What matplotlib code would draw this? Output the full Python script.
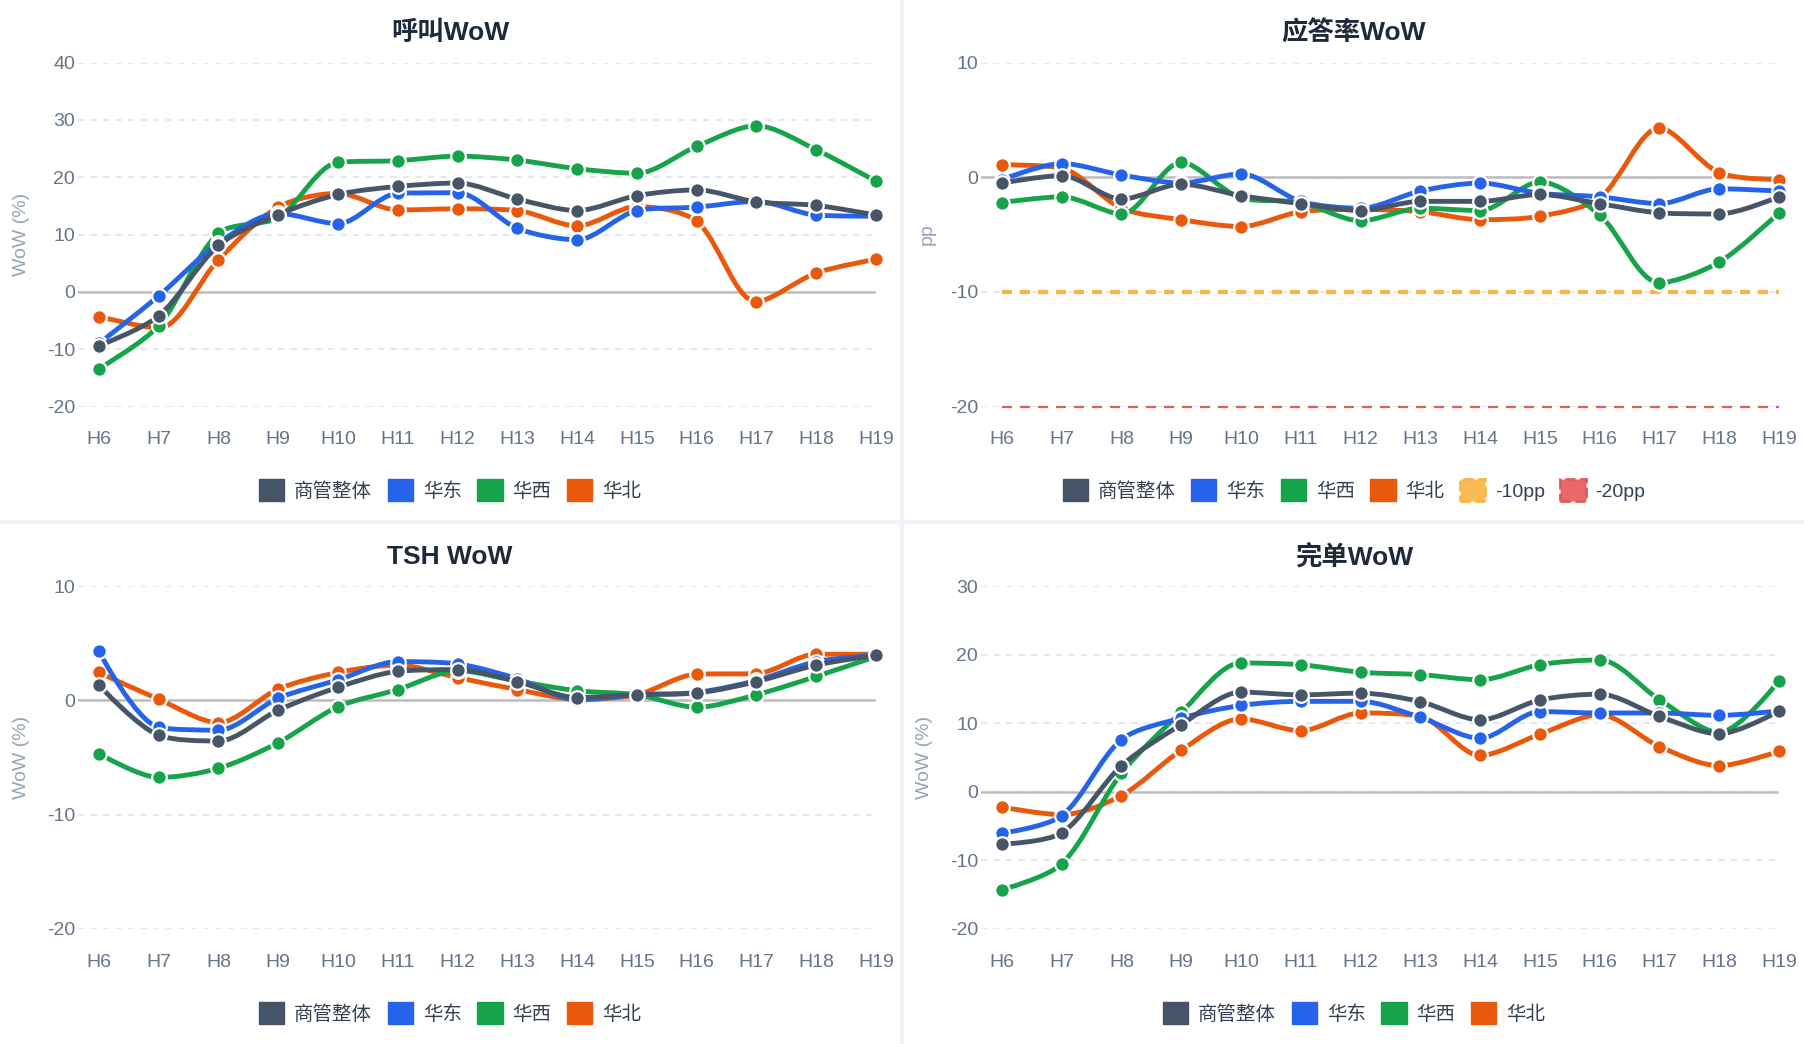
import numpy as np
import matplotlib
matplotlib.use('Agg')
import matplotlib.pyplot as plt
from matplotlib.path import Path
from matplotlib.patches import PathPatch, Patch, Rectangle

plt.rcParams['font.family'] = ['Liberation Sans', 'Noto Sans CJK SC']
plt.rcParams['axes.unicode_minus'] = False

# categories
hours = ['H6', 'H7', 'H8', 'H9', 'H10', 'H11', 'H12', 'H13', 'H14', 'H15', 'H16', 'H17', 'H18', 'H19']
series_names = ['商管整体', '华东', '华西', '华北']
series_colors = ['#475569', '#2563eb', '#16a34a', '#ea580c']

# 呼叫WoW (%)
call_all = [-9.4, -4.2, 8.1, 13.5, 17.0, 18.4, 19.0, 16.2, 14.2, 16.8, 17.8, 15.7, 15.1, 13.4]
call_east = [-9.0, -0.7, 8.5, 13.7, 11.9, 17.2, 17.3, 11.1, 9.1, 14.2, 14.8, 15.8, 13.4, 13.2]
call_west = [-13.4, -5.9, 10.2, 13.0, 22.6, 22.9, 23.7, 23.0, 21.5, 20.7, 25.4, 29.0, 24.8, 19.3]
call_north = [-4.3, -6.3, 5.6, 14.8, 17.2, 14.3, 14.5, 14.2, 11.5, 14.9, 12.3, -1.7, 3.3, 5.7]

# 应答率WoW (pp)
ans_all = [-0.5, 0.15, -1.9, -0.6, -1.6, -2.3, -2.9, -2.1, -2.1, -1.5, -2.3, -3.1, -3.2, -1.7]
ans_east = [-0.2, 1.2, 0.2, -0.5, 0.3, -2.1, -2.7, -1.2, -0.5, -1.4, -1.7, -2.3, -1.0, -1.2]
ans_west = [-2.2, -1.7, -3.2, 1.3, -1.8, -2.2, -3.8, -2.7, -2.9, -0.4, -3.3, -9.2, -7.4, -3.1]
ans_north = [1.1, 0.8, -2.7, -3.7, -4.3, -3.0, -2.8, -3.0, -3.7, -3.4, -1.8, 4.3, 0.4, -0.2]
ans_ref_values = [-10, -20]
ans_ref_names = ['-10pp', '-20pp']

# TSH WoW (%)
tsh_all = [1.35, -3.05, -3.55, -0.85, 1.15, 2.55, 2.7, 1.65, 0.25, 0.5, 0.65, 1.65, 3.1, 3.95]
tsh_east = [4.3, -2.35, -2.6, 0.2, 1.8, 3.4, 3.2, 1.9, 0.05, 0.5, 0.7, 1.75, 3.4, 3.95]
tsh_west = [-4.65, -6.75, -5.95, -3.7, -0.55, 0.95, 2.6, 1.7, 0.85, 0.5, -0.6, 0.5, 2.1, 3.85]
tsh_north = [2.45, 0.1, -1.95, 1.0, 2.45, 3.1, 2.0, 0.95, 0.1, 0.5, 2.3, 2.35, 4.05, 4.05]

# 完单WoW (%)
done_all = [-7.65, -6.0, 3.8, 9.8, 14.55, 14.15, 14.4, 13.15, 10.5, 13.4, 14.25, 11.0, 8.45, 11.8]
done_east = [-6.05, -3.5, 7.6, 10.75, 12.6, 13.2, 13.2, 10.85, 7.8, 11.7, 11.5, 11.5, 11.15, 11.8]
done_west = [-14.3, -10.55, 2.7, 11.6, 18.8, 18.55, 17.45, 17.1, 16.35, 18.55, 19.25, 13.45, 8.65, 16.2]
done_north = [-2.25, -3.35, -0.55, 6.05, 10.65, 8.9, 11.5, 11.0, 5.3, 8.4, 11.25, 6.6, 3.8, 5.9]

W, H = 1804, 1044
fig = plt.figure(figsize=(W / 100, H / 100), dpi=100)
fig.patch.set_facecolor('#f0f3f8')

# white panels
panels = [(0, 0, 900, 520), (904, 0, 900, 520), (0, 524, 900, 520), (904, 524, 900, 520)]
for px, py, pw, ph in panels:
    fig.patches.append(Rectangle((px / W, 1 - (py + ph) / H), pw / W, ph / H,
                                 transform=fig.transFigure, facecolor='white',
                                 edgecolor='none', zorder=-5))


def smooth_path(ax, xs, ys, smooth=0.3):
    # echarts style smooth bezier, computed in pixel space
    pts = ax.transData.transform(np.column_stack([xs, ys]))
    n = len(pts)
    verts = [pts[0]]
    codes = [Path.MOVETO]
    cp0 = pts[0].copy()
    for i in range(1, n):
        x, y = pts[i]
        if i == n - 1:
            cp1 = np.array([x, y])
            next_cp0 = None
        else:
            px_, py_ = pts[i - 1]
            nx, ny = pts[i + 1]
            vx, vy = nx - px_, ny - py_
            len_prev = np.hypot(x - px_, y - py_)
            len_next = np.hypot(nx - x, ny - y)
            ratio = len_next / (len_next + len_prev)
            ncx = x + vx * smooth * ratio
            ncy = y + vy * smooth * ratio
            ncx = min(ncx, max(nx, x)); ncy = min(ncy, max(ny, y))
            ncx = max(ncx, min(nx, x)); ncy = max(ncy, min(ny, y))
            vx, vy = ncx - x, ncy - y
            c1x = x - vx * len_prev / len_next
            c1y = y - vy * len_prev / len_next
            c1x = min(c1x, max(px_, x)); c1y = min(c1y, max(py_, y))
            c1x = max(c1x, min(px_, x)); c1y = max(c1y, min(py_, y))
            vx, vy = x - c1x, y - c1y
            ncx = x + vx * len_next / len_prev
            ncy = y + vy * len_next / len_prev
            cp1 = np.array([c1x, c1y])
            next_cp0 = np.array([ncx, ncy])
        verts += [cp0, cp1, np.array([x, y])]
        codes += [Path.CURVE4] * 3
        if next_cp0 is not None:
            cp0 = next_cp0
    data_verts = ax.transData.inverted().transform(np.array(verts))
    return Path(data_verts, codes)


top_title = {False: 33, True: 557}
legend_y = {False: 490, True: 1013}


def make_axes(rect_px, yticks, title, ylabel, panel_center, data, refs=None, label_x=-0.06):
    left, top, right, bottom = rect_px
    ax = fig.add_axes([left / W, 1 - bottom / H, (right - left) / W, (bottom - top) / H])
    ax.set_facecolor('none')
    ax.set_xlim(-0.35, 13)
    ax.set_ylim(yticks[0], yticks[-1])
    ax.set_yticks(yticks)
    ax.set_xticks(range(len(hours)))
    ax.set_xticklabels(hours)
    for s in ax.spines.values():
        s.set_visible(False)
    ax.tick_params(axis='x', length=0, pad=18, labelsize=14, labelcolor='#64748b')
    ax.tick_params(axis='y', length=0, pad=2, labelsize=14, labelcolor='#64748b')
    ax.grid(axis='y', color='#e2e8f0', linestyle=(0, (3, 3)), linewidth=1.5, zorder=1)
    ax.grid(axis='x', visible=False)
    ax.axhline(0, color='#bdbdbd', linewidth=1.8, zorder=2)
    ax.set_ylabel(ylabel, fontsize=14, color='#94a3b8')
    ax.yaxis.set_label_coords(label_x, 0.5)

    x = np.arange(len(hours))
    handles = []
    for k in range(len(series_names) - 1, -1, -1):
        vals = data[k]
        c = series_colors[k]
        z = 3 + (len(series_names) - k)
        path = smooth_path(ax, x, vals)
        ax.add_patch(PathPatch(path, facecolor='none', edgecolor=c, linewidth=3.5,
                               capstyle='round', joinstyle='round', zorder=z, clip_on=False))
        ax.plot(x, vals, linestyle='none', marker='o', markersize=10.5,
                markerfacecolor=c, markeredgecolor='white', markeredgewidth=1.6,
                zorder=z + 0.5, clip_on=False)
    for k in range(len(series_names)):
        handles.append(Patch(facecolor=series_colors[k], edgecolor=series_colors[k],
                             label=series_names[k]))

    if refs is not None:
        for val, name, lc, fc, lw in refs:
            ax.plot([0, len(hours) - 1], [val, val], color=lc, linewidth=lw,
                    linestyle=(0, (10 * 0.72 / lw, 8 * 0.72 / lw)), zorder=2.5, clip_on=False)
            handles.append(Patch(facecolor=fc, edgecolor=lc, linestyle='--',
                                 linewidth=2, label=name))

    fig.text(panel_center / W, 1 - top_title[bottom > 500] / H, title, ha='center',
             va='center', fontsize=19, fontweight='bold', color='#1e293b')
    leg_y = 1 - legend_y[bottom > 500] / H
    leg = fig.legend(handles=handles, loc='center', bbox_to_anchor=(panel_center / W, leg_y),
                     ncol=len(handles), frameon=False, fontsize=14,
                     handlelength=1.3, handleheight=1.3, handletextpad=0.5,
                     columnspacing=0.8, borderaxespad=0)
    for t in leg.get_texts():
        t.set_color('#334155')
    return ax


make_axes((78, 62.7, 876, 406.5), [-20, -10, 0, 10, 20, 30, 40], '呼叫WoW', 'WoW (%)', 450,
          [call_all, call_east, call_west, call_north])

ans_refs = [(ans_ref_values[0], ans_ref_names[0], '#f8b445', '#f9bc55', 3),
            (ans_ref_values[1], ans_ref_names[1], '#e45a5a', '#e8686b', 1.6)]
make_axes((981, 62.7, 1779, 406.5), [-20, -10, 0, 10], '应答率WoW', 'pp', 1354,
          [ans_all, ans_east, ans_west, ans_north], refs=ans_refs, label_x=-0.057)

make_axes((78, 586.3, 876, 928.7), [-20, -10, 0, 10], 'TSH WoW', 'WoW (%)', 450,
          [tsh_all, tsh_east, tsh_west, tsh_north])

make_axes((981, 586.3, 1779, 928.7), [-20, -10, 0, 10, 20, 30], '完单WoW', 'WoW (%)', 1354,
          [done_all, done_east, done_west, done_north])

fig.savefig('out.png', dpi=100, facecolor=fig.get_facecolor())
plt.close(fig)
